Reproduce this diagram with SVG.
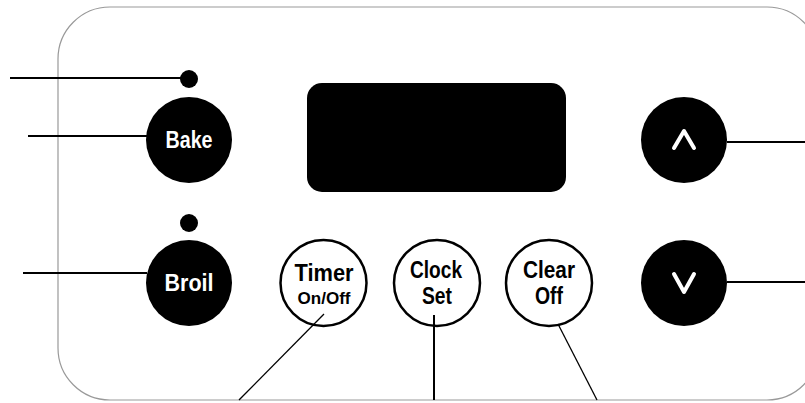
<svg xmlns="http://www.w3.org/2000/svg" width="805" height="403" viewBox="0 0 805 403">
<style>
.lbl{font-family:"Liberation Sans",Arial,sans-serif;font-weight:bold;text-anchor:middle;font-size:24.5px}
.sm{font-size:17px}
.w{fill:#fff}
.k{fill:#000}
.btn{fill:#000}
.obtn{fill:#fff;stroke:#000;stroke-width:2.5}
.ln{stroke:#000;stroke-width:2;fill:none}
.thin{stroke:#000;stroke-width:1.3;fill:none}
.chev{stroke:#fff;stroke-width:4;fill:none;stroke-linecap:round;stroke-linejoin:round}
</style>
<rect width="805" height="403" fill="#fff"/>
<g id="panel"><rect x="58" y="7" width="761" height="393" rx="52" fill="none" stroke="#999" stroke-width="1.2"/></g>
<g id="display"><rect x="307" y="83" width="259" height="109" rx="15" fill="#000"/></g>
<g id="bake-light"><circle cx="189" cy="79" r="9" class="btn"/></g>
<g id="broil-light"><circle cx="189" cy="223" r="9" class="btn"/></g>
<g id="bake"><circle cx="189" cy="140" r="43" class="btn"/><text x="189" y="148" class="lbl w" textLength="47" lengthAdjust="spacingAndGlyphs">Bake</text></g>
<g id="broil"><circle cx="189" cy="283" r="43" class="btn"/><text x="189" y="291" class="lbl w" textLength="49" lengthAdjust="spacingAndGlyphs">Broil</text></g>
<g id="timer"><circle cx="323.5" cy="283" r="43" class="obtn"/><text x="324" y="281" class="lbl k" textLength="59" lengthAdjust="spacingAndGlyphs">Timer</text><text x="324" y="304" class="lbl k sm" textLength="53" lengthAdjust="spacingAndGlyphs">On/Off</text></g>
<g id="clock"><circle cx="437" cy="283" r="43" class="obtn"/><text x="436" y="278" class="lbl k" textLength="52" lengthAdjust="spacingAndGlyphs">Clock</text><text x="437" y="304" class="lbl k" textLength="30" lengthAdjust="spacingAndGlyphs">Set</text></g>
<g id="clear"><circle cx="549" cy="283" r="43" class="obtn"/><text x="549" y="278" class="lbl k" textLength="52" lengthAdjust="spacingAndGlyphs">Clear</text><text x="549" y="304" class="lbl k" textLength="28" lengthAdjust="spacingAndGlyphs">Off</text></g>
<g id="up"><circle cx="684" cy="140" r="43" class="btn"/><polyline points="674,148 684,131 694,148" class="chev"/></g>
<g id="down"><circle cx="684" cy="283" r="43" class="btn"/><polyline points="674,274 684,292 694,274" class="chev"/></g>
<g id="connectors">
<line x1="10" y1="78" x2="185" y2="78" class="ln"/>
<line x1="28" y1="136" x2="147" y2="136" class="ln"/>
<line x1="23" y1="273" x2="147" y2="273" class="ln"/>
<line x1="727" y1="142" x2="805" y2="142" class="ln"/>
<line x1="727" y1="282" x2="805" y2="282" class="ln"/>
<line x1="239" y1="400" x2="324" y2="314" class="thin"/>
<line x1="434" y1="315" x2="434" y2="400" class="ln"/>
<line x1="558" y1="324" x2="597" y2="400" class="thin"/>
</g>
</svg>
